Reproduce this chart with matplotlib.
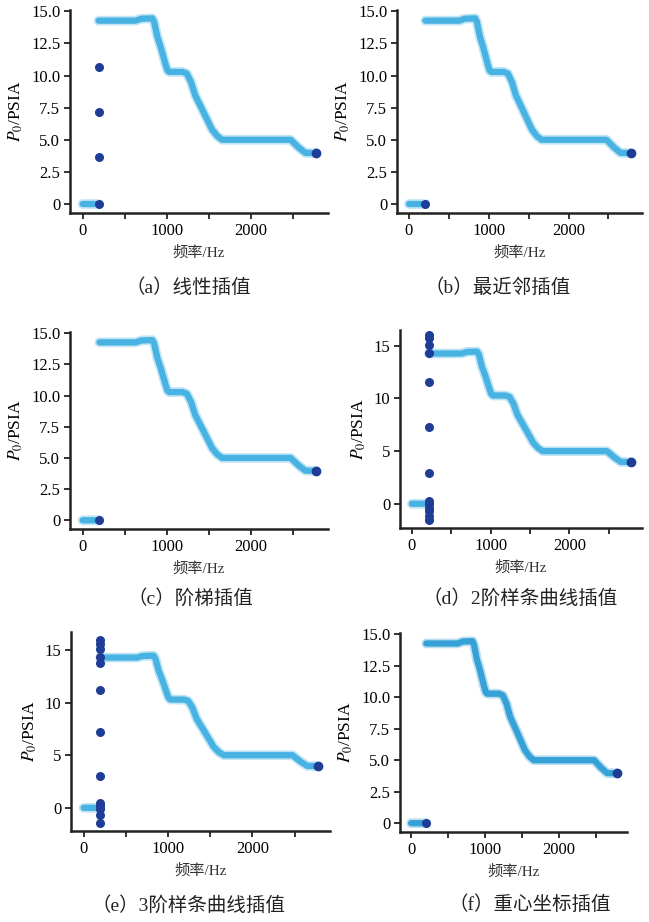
import numpy as np
import matplotlib
matplotlib.use('Agg')
import matplotlib.pyplot as plt
from matplotlib.ticker import FixedLocator, FuncFormatter

plt.rcParams['font.family'] = ['Liberation Serif', 'Noto Sans CJK SC', 'DejaVu Sans']
plt.rcParams['mathtext.fontset'] = 'stix'

# main interpolated curve (frequency Hz, P0 PSIA)
curve_x = [0, 190, np.nan, 190, 630, 700, 830, 850, 890, 930, 990, 1010, 1030, 1190,
           1240, 1290, 1340, 1420, 1480, 1540, 1600, 1660, 2475, 2570, 2650, 2780]
curve_y = [0, 0, np.nan, 14.27, 14.27, 14.42, 14.45, 14.2, 13.0, 12.2, 10.8, 10.4, 10.28,
           10.28, 10.15, 9.5, 8.45, 7.4, 6.6, 5.8, 5.3, 5.0, 5.0, 4.4, 3.98, 3.96]

# sampled points drawn dark
dots_a = [0, 3.67, 7.19, 10.67]
dots_b = [0]
dots_c = [0]
dots_d = [-1.5, -1.2, -0.7, -0.4, 0, 0.3, 2.9, 7.3, 11.6, 14.3, 15.06, 15.7, 16.0]
dots_e = [-1.46, -0.66, -0.1, 0.2, 0.5, 3.0, 7.2, 11.2, 13.8, 14.3, 15.1, 15.6, 15.9]
dots_f = [0]
end_point = (2780, 3.96)

captions = ['（a）线性插值', '（b）最近邻插值', '（c）阶梯插值',
            '（d）2阶样条曲线插值', '（e）3阶样条曲线插值', '（f）重心坐标插值']

W, H = 649, 922
fig = plt.figure(figsize=(W / 100, H / 100), dpi=100)

# (left, top, right, bottom) in pixels
boxes = [(70, 10, 328, 213), (397, 10, 642, 213),
         (70, 332, 328, 529), (400, 330, 642, 528),
         (71, 632, 330, 831), (400, 633, 627, 832)]
dot_sets = [dots_a, dots_b, dots_c, dots_d, dots_e, dots_f]
dot_x = [190, 205, 200, 215, 195, 205]
ylims = [(-0.7, 15.1), (-0.7, 15.1), (-0.7, 15.1), (-2.3, 16.5), (-2.2, 16.7), (-0.7, 15.1)]
cap_pos = [(188, 288), (498, 288), (190, 598), (520, 598), (188, 905), (530, 905)]

line_col = '#33ABE0'
dot_col = '#1F3C96'

for i, ax_box in enumerate(boxes):
    l, t, r, b = ax_box
    ax = fig.add_axes([l / W, 1 - b / H, (r - l) / W, (b - t) / H])
    cx = [dot_x[i] if x == 190 else x for x in curve_x]
    lc = '#1E96D2' if i == 5 else line_col
    ax.plot(cx, curve_y, color=lc, lw=7, alpha=0.3, solid_capstyle='round')
    ax.plot(cx, curve_y, color=lc, lw=4.5, alpha=0.85, solid_capstyle='round')
    ax.scatter([dot_x[i]] * len(dot_sets[i]), dot_sets[i], s=30, color=dot_col, zorder=3)
    ax.scatter([end_point[0]], [end_point[1]], s=36, color=dot_col, zorder=3)

    ax.set_xlim(-150, 2920)
    ax.set_ylim(*ylims[i])
    ax.xaxis.set_major_locator(FixedLocator([0, 1000, 2000]))
    ax.xaxis.set_minor_locator(FixedLocator([500, 1500, 2500]))
    if i in (3, 4):
        ax.yaxis.set_major_locator(FixedLocator([0, 5, 10, 15]))
        ax.yaxis.set_major_formatter(FuncFormatter(lambda v, p: '%d' % v))
    else:
        ax.yaxis.set_major_locator(FixedLocator([0, 2.5, 5, 7.5, 10, 12.5, 15]))
        ax.yaxis.set_major_formatter(FuncFormatter(lambda v, p: '0' if v == 0 else '%.1f' % v))

    for s in ['top', 'right']:
        ax.spines[s].set_visible(False)
    for s in ['left', 'bottom']:
        ax.spines[s].set_linewidth(1.8)
        ax.spines[s].set_color('#222222')
    ax.tick_params(which='both', direction='out', length=4, width=1.3, color='#222222',
                   labelsize=12, pad=3)
    ax.set_xlabel('频率/Hz', fontsize=11, labelpad=5, color='#333333')
    ax.set_ylabel(r'$P_0$/PSIA', fontsize=12.5, labelpad=4)

    cx_, cy_ = cap_pos[i]
    fig.text(cx_ / W, 1 - cy_ / H, captions[i], ha='center', va='center', fontsize=14,
             color='#222222')

fig.savefig('out.png', dpi=100)
